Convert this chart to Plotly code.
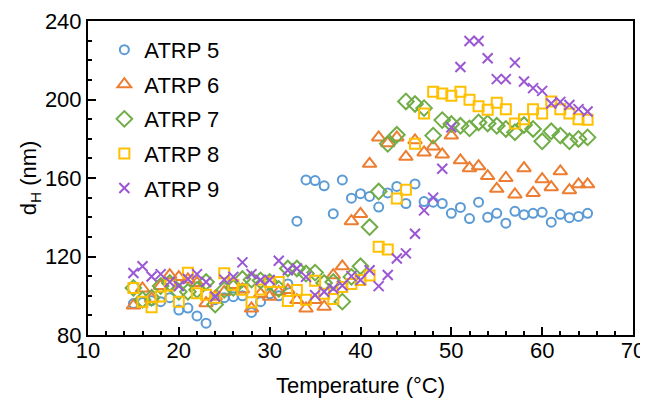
import plotly.graph_objects as go

temperature = [15, 16, 17, 18, 19, 20, 21, 22, 23, 24, 25, 26, 27, 28, 29, 30,
               31, 32, 33, 34, 35, 36, 37, 38, 39, 40, 41, 42, 43, 44, 45, 46,
               47, 48, 49, 50, 51, 52, 53, 54, 55, 56, 57, 58, 59, 60, 61, 62,
               63, 64, 65]

atrp5 = [96, 96.5, 97.5, 97, 99, 92.7, 93.7, 89.7, 86, 98, 99, 99.5, 100, 91.5, 97, 101,
         100, 106, 138, 159, 158.7, 156, 141.8, 159, 149.7, 152, 150.6, 145.2, 152.4, 155.7, 147, 157,
         148, 147.7, 147, 142, 145, 139.3, 147.7, 140, 142, 137, 143, 141.3, 142, 142.5, 137.5, 141.5,
         139.8, 140.4, 142]

atrp6 = [95, 103.7, 98.5, 105, 110.5, 109.5, 108.3, 106.5, 96.2, 99.5, 102, 105.5, 103.2, 93.5, 101, 99.5,
         102, 102.9, 97.8, 93.5, 97.8, 94.4, 110.5, 115, 138, 141.7, 167.2, 180.7, 177.7, 180.7, 170.8, 179.2,
         173, 176, 172, 181.6, 169, 165, 166, 161, 154.5, 160, 151.6, 165, 152.4, 159.4, 155.3, 163.4,
         153.8, 156.8, 156.8]

atrp7 = [104, 98, 99, 105, 106.5, 102, 102, 103, 107, 95.5, 103, 104, 108.5, 108.2, 107.8, 107,
         103.5, 113.9, 113.9, 111.3, 111.8, 106.5, 107, 97, 109.6, 115, 135, 153.1, 177.4, 182, 199, 197.7,
         195.6, 181.6, 189.5, 187.5, 186.6, 185.3, 188.3, 187.8, 186.6, 185, 183.3, 187, 185, 178.7, 183.8, 181.6,
         178.7, 179.9, 180.7]

atrp8 = [104, 97, 94.2, 99.6, 105.2, 97, 111.7, 101.3, 100.5, 99, 111.5, 105.6, 103, 96.7, 103.2, 107,
         107, 97.3, 102.9, 98, 107.7, 101, 98.4, 104.5, 106, 108, 110.3, 125, 123.6, 149.6, 154, 177.4,
         192.9, 204, 203, 201.9, 204, 199.9, 196.5, 194.8, 198.3, 195, 187.8, 190, 195, 192.9, 199, 195,
         192.9, 190, 189.7]

atrp9 = [111.6, 115, 109.8, 111, 107, 105, 108.5, 111, 107, 99.6, 108.2, 109.6, 117, 111, 108, 108,
         117.8, 113, 113.9, 109.6, 100.3, 102, 103.7, 105.2, 110, 108, 113, 104.9, 110.6, 119, 121.6, 131.6,
         143.5, 150, 164.7, 185.8, 216.6, 229.8, 229.8, 221, 210.4, 210.4, 218.8, 209.2, 205.8, 204.4, 198, 198.8,
         197.2, 195.1, 193.9]

series_names = ["ATRP 5", "ATRP 6", "ATRP 7", "ATRP 8", "ATRP 9"]
series_values = [atrp5, atrp6, atrp7, atrp8, atrp9]
colors = ["#5B9BD5", "#ED7D31", "#70AD47", "#FFC000", "#9B57D3"]
symbols = ["circle-open", "triangle-up-open", "diamond-open", "square-open", "x-thin-open"]
sizes = [9, 12, 12, 10, 10]

x_ticks = [10, 20, 30, 40, 50, 60, 70]
y_ticks = [80, 120, 160, 200, 240]

FONT = "Liberation Sans, Arial, sans-serif"
FS = 22

fig = go.Figure()
for i, (name, vals) in enumerate(zip(series_names, series_values)):
    fig.add_trace(go.Scatter(
        x=temperature, y=vals, mode="markers", name=name,
        legendgroup=name,
        marker=dict(symbol=symbols[i], size=sizes[i], color=colors[i],
                    line=dict(color=colors[i], width=2)),
    ))

axis_common = dict(
    showline=True, linecolor="black", linewidth=2, mirror=True,
    ticks="inside", ticklen=8, tickwidth=1.5, tickcolor="black",
    showgrid=False, zeroline=False, automargin=False,
    tickfont=dict(family=FONT, size=FS, color="black"),
)

fig.update_xaxes(
    range=[10, 70], tickvals=x_ticks, ticklabelstandoff=-5,
    title=dict(text="Temperature (°C)", font=dict(family=FONT, size=FS, color="black"), standoff=15),
    minor=dict(dtick=2, ticklen=4, ticks="inside", tickcolor="black", tickwidth=1.5),
    **axis_common,
)
fig.update_yaxes(
    range=[80, 240], tickvals=y_ticks,
    title=dict(text="d<sub>H</sub> (nm)", font=dict(family=FONT, size=FS, color="black"), standoff=2),
    minor=dict(dtick=10, ticklen=4, ticks="inside", tickcolor="black", tickwidth=1.5),
    **axis_common,
)

# page body has an 8px default margin: shift the figure geometry to compensate
fig.update_layout(
    width=648, height=398,
    margin=dict(l=80, r=23, t=13, b=71),
    plot_bgcolor="white", paper_bgcolor="white",
    font=dict(family=FONT, size=FS, color="black"),
    legend=dict(x=0.03, y=0.975, xanchor="left", yanchor="top",
                bgcolor="rgba(0,0,0,0)", tracegroupgap=3,
                font=dict(family=FONT, size=FS, color="black")),
)

fig.write_html("out.html")
